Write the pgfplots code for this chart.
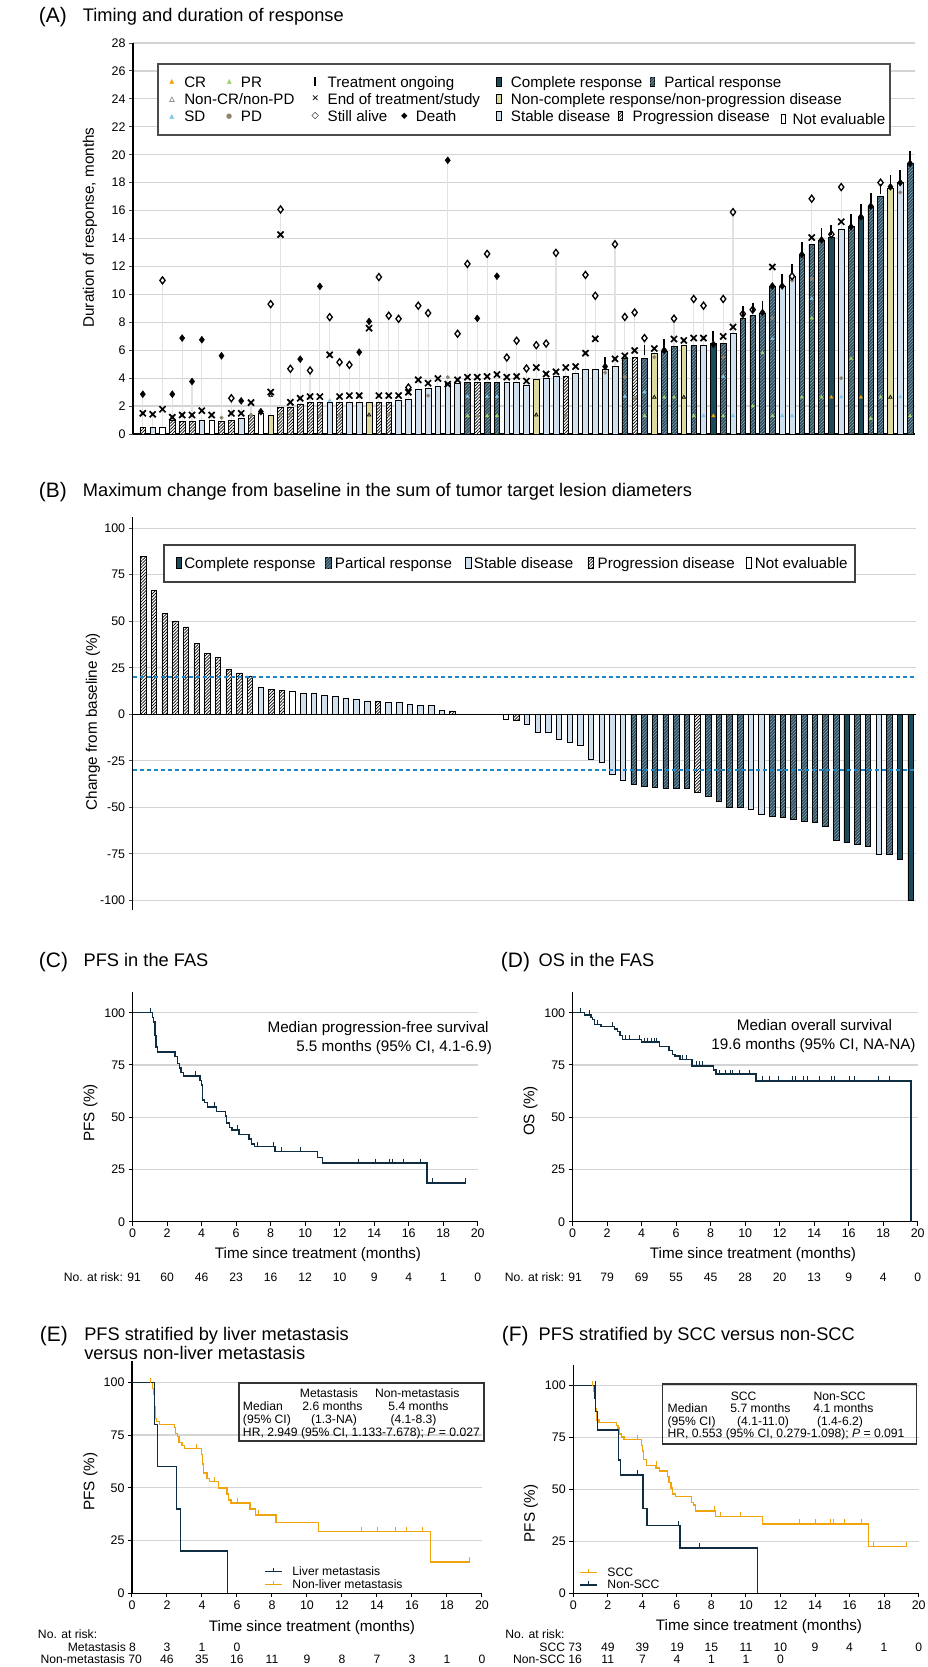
\documentclass[border=0pt]{standalone}
\usepackage{fontspec}
\setmainfont{Liberation Sans}
\newfontfamily\djv{DejaVu Sans}
\usepackage{pgfplots}
\pgfplotsset{compat=1.18}
\usepackage{pgfplotstable}
\usetikzlibrary{patterns.meta}

\definecolor{CRc}{HTML}{1B4B5A}
\definecolor{PRc}{HTML}{2A4B5B}
\definecolor{PRh}{HTML}{8AA2AF}
\definecolor{NCRc}{HTML}{DDDB9E}
\definecolor{SDc}{HTML}{D0E0EE}
\definecolor{mCR}{HTML}{F2A007}
\definecolor{mPR}{HTML}{9FD26B}
\definecolor{mSD}{HTML}{7CC7EA}
\definecolor{mPD}{HTML}{8E8470}
\definecolor{navy}{HTML}{0F2D40}
\definecolor{orng}{HTML}{F0A30A}
\definecolor{refblue}{HTML}{1C86C9}
\definecolor{gridc}{HTML}{D4D4D4}
\definecolor{conn}{HTML}{E2E2E2}

\newcommand\fP{\fontsize{21}{22}\selectfont}
\newcommand\fT{\fontsize{18.3}{19}\selectfont}
\newcommand\fL{\fontsize{15.3}{17}\selectfont}
\newcommand\fK{\fontsize{12.5}{14}\selectfont}
\newcommand\fS{\fontsize{12.2}{13}\selectfont}

\pgfplotsset{
  every tick label/.append style={font=\fK},
  /pgf/number format/assume math mode=true,
  km/.style={scale only axis, anchor=south west, axis lines*=left,
    axis line style={black, line width=1.5bp},
    xmin=0, xmax=20, ymin=0, ymax=110,
    xtick={0,2,...,20}, ytick={0,25,50,75,100},
    tick align=outside, major tick length=4bp,
    tick style={black, line width=1bp},
    ymajorgrids, grid style={gridc, line width=1.2bp}},
  censor/.style={only marks, mark=|, mark size=2.6bp,
    mark options={line width=1bp, yshift=2bp}},
}

% panel A: bar length, class (1 CR, 2 PR, 3 non-CR/non-PD, 4 SD, 5 PD, 6 NE),
% end of treatment, still alive, death, ongoing flag, top of the grey stem
\pgfplotstableread{
i val cls X alive death ong top
1 0.5 5 1.48 nan 2.85 0 2.85
2 0.5 4 1.41 nan nan 0 1.41
3 0.5 6 1.77 11.0 nan 0 11.0
4 0.95 5 1.2 nan 2.85 0 2.85
5 0.9 5 1.36 nan 6.87 0 6.87
6 0.9 5 1.36 nan 3.76 0 3.76
7 0.97 4 1.67 nan 6.75 0 6.75
8 0.97 6 1.36 nan nan 0 1.36
9 0.9 5 nan nan 5.6 0 5.6
10 0.97 5 1.48 2.56 nan 0 2.56
11 1.1 4 1.48 nan 2.37 0 2.37
12 1.36 5 2.25 nan nan 0 2.25
13 1.48 6 nan nan 1.6 0 1.6
14 1.36 3 3.0 9.3 nan 0 9.3
15 1.91 5 14.28 16.08 nan 0 16.08
16 1.91 5 2.27 4.67 nan 0 4.67
17 2.15 5 2.56 nan 5.36 0 5.36
18 2.27 5 2.68 4.55 nan 0 4.55
19 2.27 5 2.68 nan 10.57 0 10.57
20 2.27 4 5.67 8.37 nan 0 8.37
21 2.27 5 2.68 5.14 nan 0 5.14
22 2.27 4 2.75 4.95 nan 0 4.95
23 2.27 4 2.75 nan 5.86 0 5.86
24 2.27 3 7.58 nan 8.06 0 8.06
25 2.27 5 2.75 11.24 nan 0 11.24
26 2.27 5 2.75 8.47 nan 0 8.47
27 2.39 4 2.75 8.25 nan 0 8.25
28 2.51 4 2.99 3.33 nan 0 3.33
29 3.2 4 3.88 9.19 nan 0 9.19
30 3.28 4 3.64 8.66 nan 0 8.66
31 3.4 4 3.97 nan nan 0 3.97
32 3.6 4 3.57 nan 19.6 0 19.6
33 3.64 4 3.88 7.18 nan 0 7.18
34 3.68 2 4.07 12.18 nan 0 12.18
35 3.68 5 4.07 nan 8.28 0 8.28
36 3.68 2 4.12 12.9 nan 0 12.9
37 3.68 2 4.26 nan 11.3 0 11.3
38 3.68 4 4.07 5.48 nan 0 5.48
39 3.68 4 4.12 6.68 nan 0 6.68
40 3.52 4 3.79 4.69 nan 0 4.69
41 3.9 3 4.76 6.36 nan 0 6.36
42 4.0 4 4.3 6.48 nan 0 6.48
43 4.16 4 4.45 12.97 nan 0 12.97
44 4.16 5 4.76 nan nan 0 4.76
45 4.36 4 4.83 nan nan 0 4.83
46 4.6 4 5.79 11.39 nan 0 11.39
47 4.6 4 6.82 9.9 nan 0 9.9
48 4.6 4 nan nan 4.83 1 4.83
49 4.88 4 5.38 13.59 nan 0 13.59
50 5.45 2 5.6 8.38 nan 0 8.38
51 5.5 5 5.98 8.7 nan 0 8.7
52 5.43 2 nan 6.87 nan 1 6.87
53 5.79 3 6.12 nan nan 0 6.12
54 5.9 2 nan nan 6.0 1 6.0
55 6.27 2 6.8 8.26 nan 0 8.26
56 6.33 3 6.7 nan nan 0 6.7
57 6.33 2 6.87 9.67 nan 0 9.67
58 6.33 4 6.87 9.19 nan 0 9.19
59 6.46 1 nan nan 6.43 1 6.46
60 6.46 2 6.99 9.67 nan 0 9.67
61 7.18 4 7.66 15.89 nan 0 15.89
62 8.26 2 nan 8.6 nan 1 8.6
63 8.5 2 nan 8.9 nan 1 8.9
64 8.62 2 nan nan 8.7 1 8.7
65 10.58 2 11.96 nan 10.6 0 11.96
66 10.58 4 nan nan 10.6 1 10.6
67 11.3 4 nan 11.3 nan 1 11.3
68 12.85 2 nan nan 12.85 1 12.85
69 13.57 2 14.07 16.85 nan 0 16.85
70 13.85 2 nan nan 13.9 1 13.9
71 14.09 1 nan 14.3 nan 1 14.3
72 14.69 4 15.2 17.68 nan 0 17.68
73 14.84 2 nan nan 14.84 1 14.84
74 15.55 1 nan nan 15.55 1 15.55
75 16.32 2 nan nan 16.32 1 16.32
76 16.99 2 nan 18.0 nan 1 18.0
77 17.63 3 nan nan 17.7 1 17.7
78 18.0 4 nan nan 18.0 1 18.0
79 19.38 2 nan nan 19.38 1 19.38
}\tabA

% panel B: best change from baseline (%)
\pgfplotstableread{
i val cls
1 84.8 5
2 66.5 5
3 54.3 5
4 50.2 5
5 47.0 5
6 38.2 5
7 32.8 5
8 30.6 5
9 24.2 5
10 22.2 5
11 20.6 5
12 14.5 4
13 13.4 5
14 12.7 5
15 12.5 6
16 11.3 4
17 11.3 4
18 10.0 4
19 9.5 4
20 8.6 4
21 8.2 4
22 7.2 4
23 7.2 5
24 6.6 4
25 6.3 4
26 5.4 4
27 4.7 4
28 4.7 4
29 2.0 4
30 1.8 5
35 -2.7 6
36 -3.0 5
37 -5.4 4
38 -9.7 4
39 -9.9 4
40 -13.3 4
41 -14.9 4
42 -16.8 4
43 -24.2 4
44 -25.6 4
45 -32.3 4
46 -35.3 4
47 -37.6 2
48 -38.5 2
49 -39.4 2
50 -39.6 2
51 -40.0 2
52 -40.0 2
53 -42.1 5
54 -43.9 2
55 -46.9 2
56 -50.2 2
57 -50.2 2
58 -51.1 4
59 -53.6 4
60 -54.7 2
61 -55.6 2
62 -56.3 2
63 -57.5 2
64 -58.3 2
65 -60.0 2
66 -67.6 2
67 -69.0 1
68 -69.7 2
69 -70.8 2
70 -75.1 4
71 -75.1 2
72 -77.8 1
73 -99.8 1
}\tabB

\pgfplotstableread{
x y
0 100
1.15 97.8
1.2 95.6
1.28 89.0
1.35 83.5
1.45 81.3
2.45 79.1
2.6 75.8
2.7 73.6
2.8 71.4
2.95 69.8
3.9 67.6
4.0 65.4
4.05 58.2
4.15 57.1
4.35 54.9
4.85 52.7
5.37 50.5
5.45 47.3
5.6 45.1
5.75 43.9
6.15 41.7
6.75 39.5
6.9 37.3
7.05 35.9
8.25 33.7
10.7 30.8
11.0 28.0
17.05 18.5
19.3 18.5
}\pfsC

\pgfplotstableread{
x y
0 100
0.68 98.9
1.06 97.8
1.16 96.7
1.26 94.4
1.64 93.3
2.42 92.2
2.6 91.1
2.75 89.0
2.9 87.1
4.0 85.9
5.02 83.9
5.57 82.0
5.8 80.0
5.93 79.4
6.22 77.6
6.92 74.6
8.15 72.5
8.31 70.6
10.63 67.3
19.61 0
}\osD

\pgfplotstableread{
x y
0 100
1.28 80
1.47 60
2.55 40
2.76 20
5.47 0
}\liver

\pgfplotstableread{
x y
0 100
1.18 97.1
1.22 94.3
1.28 88.6
1.33 82.9
1.4 81.4
1.56 80.0
2.42 78.6
2.5 75.7
2.6 74.3
2.7 71.4
2.85 70.0
2.99 68.6
3.97 65.7
4.04 61.4
4.08 57.1
4.3 54.3
4.42 52.9
4.95 50.0
5.43 47.1
5.52 44.3
5.66 42.9
6.75 40.0
7.05 37.1
8.23 33.6
10.67 29.3
17.05 14.8
19.28 14.8
}\nonliver

\pgfplotstableread{
x y
0 100
1.2 97.3
1.25 94.5
1.3 89.0
1.35 83.5
1.5 82.2
2.5 80.8
2.6 79.5
2.68 76.7
2.8 75.3
2.95 74.0
3.95 71.2
4.0 68.5
4.07 64.4
4.25 61.6
4.79 60.3
4.98 58.9
5.45 56.2
5.55 53.4
5.65 50.7
5.75 47.9
5.91 46.6
6.85 43.8
6.95 42.5
7.07 39.7
8.22 37.0
10.96 33.5
17.1 22.5
19.27 22.5
}\scc

\pgfplotstableread{
x y
0 100
1.27 93.8
1.3 87.5
1.4 78.7
2.63 64.2
2.72 57.0
4.05 40.9
4.28 32.7
6.18 21.8
10.68 0
}\nonscc

\newsavebox\aCR \newsavebox\aPR \newsavebox\aNCR \newsavebox\aSD \newsavebox\aPD \newsavebox\aNE
\newsavebox\bCR \newsavebox\bPR \newsavebox\bSD \newsavebox\bPD \newsavebox\bNE
\newsavebox\kmN \newsavebox\kmO
\newcommand\mkicon[4]{\sbox#1{\tikz[baseline=0bp]\draw[line width=0.6bp,#4](0,0) rectangle (#2,#3);}}
\tikzset{
  prfill/.style={fill=PRc, postaction={pattern={Lines[angle=45,distance=2.2bp,line width=0.6bp]}, pattern color=PRh}},
  pdfill/.style={fill=white, postaction={pattern={Lines[angle=45,distance=2.2bp,line width=0.7bp]}, pattern color=black}},
}

\begin{document}
\mkicon\aCR{4.5bp}{8.7bp}{fill=CRc}
\mkicon\aPR{4.5bp}{8.7bp}{prfill}
\mkicon\aNCR{4.5bp}{8.7bp}{fill=NCRc}
\mkicon\aSD{4.5bp}{8.7bp}{fill=SDc}
\mkicon\aPD{4.5bp}{8.7bp}{pdfill}
\mkicon\aNE{4.5bp}{8.7bp}{fill=white}
\mkicon\bCR{5.5bp}{11bp}{fill=CRc}
\mkicon\bPR{5.5bp}{11bp}{prfill}
\mkicon\bSD{5.5bp}{11bp}{fill=SDc}
\mkicon\bPD{5.5bp}{11bp}{pdfill}
\mkicon\bNE{5.5bp}{11bp}{fill=white}
\sbox\kmN{\tikz[baseline=-3.8bp]{\draw[navy,line width=1.5bp](0,0)--(17bp,0);\draw[navy,line width=1bp](8.5bp,0)--(8.5bp,3.5bp);}}
\sbox\kmO{\tikz[baseline=-3.8bp]{\draw[orng,line width=1.5bp](0,0)--(17bp,0);\draw[orng,line width=1bp](8.5bp,0)--(8.5bp,3.5bp);}}
\begin{tikzpicture}
\useasboundingbox (0,0) rectangle (892bp,-1667bp);

% ---------- (A) ----------
\begin{axis}[at={(97bp,-434bp)}, anchor=south west, scale only axis,
  width=782bp, height=391bp, xmin=0, xmax=79.5, ymin=0, ymax=28,
  axis lines*=left, axis line style={black, line width=1.5bp},
  xtick=\empty, ytick={0,2,...,28}, tick align=outside, major tick length=4bp,
  tick style={black!70, line width=1bp},
  ymajorgrids, grid style={gridc, line width=1.2bp}]
\addplot[ycomb, conn, line width=1.1bp, mark=none] table[x=i,y=top]{\tabA};
\addplot[ybar, bar width=5.7bp, bar shift=0pt, draw=black, line width=0.6bp, fill=CRc,
  restrict expr to domain={\thisrow{cls}}{1:1}] table[x=i,y=val]{\tabA};
\addplot[ybar, bar width=5.7bp, bar shift=0pt, draw=black, line width=0.6bp, prfill,
  restrict expr to domain={\thisrow{cls}}{2:2}] table[x=i,y=val]{\tabA};
\addplot[ybar, bar width=5.7bp, bar shift=0pt, draw=black, line width=0.6bp, fill=NCRc,
  restrict expr to domain={\thisrow{cls}}{3:3}] table[x=i,y=val]{\tabA};
\addplot[ybar, bar width=5.7bp, bar shift=0pt, draw=black, line width=0.6bp, fill=SDc,
  restrict expr to domain={\thisrow{cls}}{4:4}] table[x=i,y=val]{\tabA};
\addplot[ybar, bar width=5.7bp, bar shift=0pt, draw=black, line width=0.6bp, pdfill,
  restrict expr to domain={\thisrow{cls}}{5:5}] table[x=i,y=val]{\tabA};
\addplot[ybar, bar width=5.7bp, bar shift=0pt, draw=black, line width=0.6bp, fill=white,
  restrict expr to domain={\thisrow{cls}}{6:6}] table[x=i,y=val]{\tabA};
% response assessments
\addplot[only marks, mark=triangle*, mark size=1.9bp, mark options={fill=mSD, draw=mSD}] coordinates {
 (2,1.41)(7,1.67)(11,1.48)(20,2.4)(22,2.75)(34,2.68)(36,2.68)(37,2.68)(50,2.68)(52,3.0)
 (58,1.3)(60,4.1)(61,1.3)(65,6.82)(66,1.3)(67,1.3)(69,9.7)(72,2.65)(78,2.65)};
\addplot[only marks, mark=triangle*, mark size=1.9bp, mark options={fill=mPR, draw=mPR}] coordinates {
 (34,1.3)(36,1.3)(37,1.3)(52,1.3)(54,2.63)(55,2.63)(57,1.3)(60,1.3)(63,2.0)(64,5.8)
 (65,1.3)(68,2.63)(69,8.3)(70,2.63)(73,5.4)(75,1.1)(76,2.63)(79,1.3)};
\addplot[only marks, mark=triangle*, mark size=1.9bp, mark options={fill=mCR, draw=mCR}] coordinates {
 (59,1.3)(71,2.63)(74,2.63)};
\addplot[only marks, mark=triangle, mark size=2bp, mark options={black, line width=0.7bp}] coordinates {
 (14,2.75)(24,1.36)(41,1.36)(53,2.63)(56,2.63)(77,2.63)};
\addplot[only marks, mark=*, mark size=1.8bp, mark options={fill=mPD, draw=mPD}] coordinates {
 (1,1.48)(4,1.2)(5,1.36)(6,1.36)(9,1.17)(10,1.48)(12,1.36)(15,1.4)(16,1.4)(17,2.56)
 (18,2.68)(19,1.3)(20,5.67)(21,1.3)(23,2.75)(25,2.75)(26,1.4)(28,2.99)(30,2.75)(32,4.07)
 (33,3.88)(34,4.07)(35,1.3)(37,4.26)(39,4.12)(42,4.3)(44,1.3)(46,5.79)(47,6.82)(48,4.4)
 (49,5.38)(50,4.1)(51,2.6)(53,5.5)(56,6.7)(58,6.87)(60,5.5)(65,8.3)(67,11.0)(69,11.1)
 (72,4.0)(78,17.3)};
\addplot[only marks, mark=x, mark size=4.3bp, mark options={black, line width=1.7bp}] table[x=i,y=X]{\tabA};
\addplot[only marks, mark=diamond*, mark size=3.5bp, mark options={fill=white, draw=black, line width=1.3bp}] table[x=i,y=alive]{\tabA};
\addplot[only marks, mark=diamond*, mark size=3.5bp, mark options={fill=black, draw=black}] table[x=i,y=death]{\tabA};
\addplot[only marks, mark=|, mark size=5bp, mark options={black, line width=1.8bp},
  restrict expr to domain={\thisrow{ong}}{1:1}] table[x=i, y expr=\thisrow{val}+0.55]{\tabA};
\end{axis}

% ---------- (B) ----------
\begin{axis}[at={(96.7bp,-909.6bp)}, anchor=south west, scale only axis,
  width=783.3bp, height=392.5bp, xmin=0, xmax=73.5, ymin=-105, ymax=106,
  axis y line*=left, axis x line=none, axis line style={black, line width=1.5bp},
  xtick=\empty, ytick={-100,-75,-50,-25,0,25,50,75,100},
  yticklabels={-100,-75,-50,-25,0,25,50,75,100},
  tick align=outside, major tick length=4bp, tick style={black!70, line width=1bp},
  ymajorgrids, grid style={gridc, line width=1.2bp}]
\addplot[ybar, bar width=5.5bp, bar shift=0pt, draw=black, line width=0.6bp, fill=CRc,
  restrict expr to domain={\thisrow{cls}}{1:1}] table[x=i,y=val]{\tabB};
\addplot[ybar, bar width=5.5bp, bar shift=0pt, draw=black, line width=0.6bp, prfill,
  restrict expr to domain={\thisrow{cls}}{2:2}] table[x=i,y=val]{\tabB};
\addplot[ybar, bar width=5.5bp, bar shift=0pt, draw=black, line width=0.6bp, fill=SDc,
  restrict expr to domain={\thisrow{cls}}{4:4}] table[x=i,y=val]{\tabB};
\addplot[ybar, bar width=5.5bp, bar shift=0pt, draw=black, line width=0.6bp, pdfill,
  restrict expr to domain={\thisrow{cls}}{5:5}] table[x=i,y=val]{\tabB};
\addplot[ybar, bar width=5.5bp, bar shift=0pt, draw=black, line width=0.6bp, fill=white,
  restrict expr to domain={\thisrow{cls}}{6:6}] table[x=i,y=val]{\tabB};
\addplot[refblue, line width=2bp, dash pattern=on 4bp off 3bp] coordinates {(0,20)(73.5,20)};
\addplot[refblue, line width=2bp, dash pattern=on 4bp off 3bp] coordinates {(0,-30)(73.5,-30)};
\addplot[black, line width=1.5bp] coordinates {(0,0)(73.5,0)};
\end{axis}

% ---------- (C) ----------
\begin{axis}[km, at={(96.7bp,-1221.7bp)}, width=345bp, height=229.9bp]
\addplot[const plot, navy, line width=1.5bp] table{\pfsC};
\addplot[censor, navy] coordinates {(1.05,100)(3.67,69.8)(4.73,54.9)(6.09,43.9)(7.25,35.9)(8.17,35.9)(8.6,33.7)(9.72,33.7)(13.08,28)(14.07,28)(14.88,28)(15.07,28)(15.71,28)(16.68,28)(17.4,18.5)(19.3,18.5)};
\end{axis}

% ---------- (D) ----------
\begin{axis}[km, at={(536.7bp,-1221.7bp)}, width=345bp, height=229.9bp]
\addplot[const plot, navy, line width=1.5bp] table{\osD};
\addplot[censor, navy] coordinates {(0.43,100)(0.97,98.9)(1.45,94.4)(2.32,93.3)(3.09,87.1)(3.29,87.1)(3.86,87.1)(4.15,85.9)(4.35,85.9)(4.54,85.9)(4.73,85.9)(4.83,85.9)(6.38,77.6)(6.57,77.6)(7.15,74.6)(7.34,74.6)(7.54,74.6)(8.5,70.6)(8.85,70.6)(9.12,70.6)(9.28,70.6)(9.66,70.6)(10.24,70.6)(10.98,67.3)(11.4,67.3)(11.94,67.3)(12.75,67.3)(12.9,67.3)(13.37,67.3)(13.62,67.3)(14.3,67.3)(14.98,67.3)(15.2,67.3)(16.04,67.3)(16.33,67.3)(17.72,67.3)(18.36,67.3)};
\end{axis}

% ---------- (E) ----------
\begin{axis}[km, at={(96bp,-1593.3bp)}, width=350bp, height=232.1bp]
\addplot[const plot, orng, line width=1.5bp] table{\nonliver};
\addplot[censor, orng] coordinates {(1.07,100)(3.71,68.6)(4.74,52.9)(6.04,42.9)(7.24,37.1)(13.09,29.3)(14.04,29.3)(15.05,29.3)(15.66,29.3)(16.61,29.3)(19.28,14.8)};
\addplot[const plot, navy, line width=1.5bp] table{\liver};
\end{axis}

% ---------- (F) ----------
\begin{axis}[km, at={(537.3bp,-1593.3bp)}, width=345.4bp, height=228.4bp]
\addplot[const plot, orng, line width=1.5bp] table{\scc};
\addplot[censor, orng] coordinates {(1.12,100)(3.73,74.0)(4.79,61.6)(8.17,39.7)(8.55,37.0)(9.71,37.0)(13.09,33.5)(14.05,33.5)(14.88,33.5)(15.08,33.5)(15.69,33.5)(16.66,33.5)(17.37,22.5)(19.27,22.5)};
\addplot[const plot, navy, line width=1.5bp] table{\nonscc};
\addplot[censor, navy] coordinates {(1.27,100)(3.73,57.0)(6.1,32.7)(7.3,21.8)};
\end{axis}

% ---------- texts ----------
\begin{scope}[x=1bp, y=-1bp, every node/.style={inner sep=0pt, outer sep=0pt}]
\node[anchor=base west, font=\fP] at (3,22) {(A)};
\node[anchor=base west, font=\fT] at (47,21.6) {Timing and duration of response};
\node[anchor=base west, font=\fP] at (3,497) {(B)};
\node[anchor=base west, font=\fT] at (47,496.6) {Maximum change from baseline in the sum of tumor target lesion diameters};
\node[anchor=base west, font=\fP] at (3,967) {(C)};
\node[anchor=base west, font=\fT] at (47.7,966.6) {PFS in the FAS};
\node[anchor=base west, font=\fP] at (465,967) {(D)};
\node[anchor=base west, font=\fT] at (502.7,966.6) {OS in the FAS};
\node[anchor=base west, font=\fP] at (4,1341) {(E)};
\node[anchor=base west, font=\fT] at (48.3,1340.6) {PFS stratified by liver metastasis};
\node[anchor=base west, font=\fT] at (48.3,1359.3) {versus non-liver metastasis};
\node[anchor=base west, font=\fP] at (466,1341) {(F)};
\node[anchor=base west, font=\fT] at (502.7,1340.6) {PFS stratified by SCC versus non-SCC};

% y labels
\node[rotate=90, font=\fL] at (54,227.5) {Duration of response, months};
\node[rotate=90, font=\fL] at (57,721.7) {Change from baseline (\%)};
\node[rotate=90, font=\fL] at (54.5,1113) {PFS (\%)};
\node[rotate=90, font=\fL] at (494.5,1111) {OS (\%)};
\node[rotate=90, font=\fL] at (54.5,1481.7) {PFS (\%)};
\node[rotate=90, font=\fL] at (495,1513.5) {PFS (\%)};

% legend A
\draw[line width=1.3bp, draw=black!70, fill=white] (122,64) rectangle (854,135);
\begin{scope}[every node/.append style={font=\fontsize{15.2}{17}\selectfont}]
\node at (136,82) {\djv\fontsize{6.5}{7}\selectfont\textcolor{mCR}{▲}};
\node[anchor=base west] at (148.3,87.2) {CR};
\node at (193.3,82) {\djv\fontsize{6.5}{7}\selectfont\textcolor{mPR}{▲}};
\node[anchor=base west] at (205,87.2) {PR};
\node at (279.3,81.7) {\rule{1.8bp}{8.5bp}};
\node[anchor=base west] at (291.7,87.2) {Treatment ongoing};
\node[anchor=south west] at (460.5,86.2) {\usebox\aCR};
\node[anchor=base west] at (475,87.2) {Complete response};
\node[anchor=south west] at (613.8,86.2) {\usebox\aPR};
\node[anchor=base west] at (628.3,87.2) {Partical response};
\node at (136,99.5) {\djv\fontsize{7}{7}\selectfont △};
\node[anchor=base west] at (148.3,104.5) {Non-CR/non-PD};
\node at (279.3,99) {\djv\fontsize{9}{9}\selectfont\bfseries ✕};
\node[anchor=base west] at (291.7,104.5) {End of treatment/study};
\node[anchor=south west] at (460.5,103.5) {\usebox\aNCR};
\node[anchor=base west] at (475,104.5) {Non-complete response/non-progression disease};
\node at (136,117) {\djv\fontsize{6.5}{7}\selectfont\textcolor{mSD}{▲}};
\node[anchor=base west] at (148.3,121.8) {SD};
\node at (193.3,116.5) {\djv\fontsize{7}{7}\selectfont\textcolor{mPD}{●}};
\node[anchor=base west] at (205,121.8) {PD};
\node at (279.3,116.3) {\djv\fontsize{9.5}{9}\selectfont ◇};
\node[anchor=base west] at (291.7,121.8) {Still alive};
\node at (368.3,116.3) {\djv\fontsize{8.5}{9}\selectfont ◆};
\node[anchor=base west] at (380,121.8) {Death};
\node[anchor=south west] at (460.5,120.8) {\usebox\aSD};
\node[anchor=base west] at (475,121.8) {Stable disease};
\node[anchor=south west] at (582,120.8) {\usebox\aPD};
\node[anchor=base west] at (596.7,121.8) {Progression disease};
\node[anchor=south west] at (745,123.5) {\usebox\aNE};
\node[anchor=base west] at (756.7,124.5) {Not evaluable};
\end{scope}

% legend B
\draw[line width=1.3bp, draw=black!75, fill=white] (128,545) rectangle (819,582);
\begin{scope}[every node/.append style={font=\fontsize{15.2}{17}\selectfont}]
\node[anchor=south west] at (140,569) {\usebox\bCR};
\node[anchor=base west] at (148.3,568.8) {Complete response};
\node[anchor=south west] at (289.3,569) {\usebox\bPR};
\node[anchor=base west] at (299,568.8) {Partical response};
\node[anchor=south west] at (429.3,569) {\usebox\bSD};
\node[anchor=base west] at (438,568.8) {Stable disease};
\node[anchor=south west] at (551.7,569) {\usebox\bPD};
\node[anchor=base west] at (561.7,568.8) {Progression disease};
\node[anchor=south west] at (710,569) {\usebox\bNE};
\node[anchor=base west] at (719,568.8) {Not evaluable};
\end{scope}

% C and D annotations
\node[anchor=base east, font=\fL] at (452.7,1032.2) {Median progression-free survival};
\node[anchor=base east, font=\fL] at (456,1051.2) {5.5 months (95\% CI, 4.1-6.9)};
\node[anchor=base, font=\fL] at (778.5,1030.2) {Median overall survival};
\node[anchor=base, font=\fL] at (777.5,1049.5) {19.6 months (95\% CI, NA-NA)};

% x labels
\node[anchor=base, font=\fL] at (282,1258.5) {Time since treatment (months)};
\node[anchor=base, font=\fL] at (717,1258.5) {Time since treatment (months)};
\node[anchor=base, font=\fL] at (276,1631.2) {Time since treatment (months)};
\node[anchor=base, font=\fL] at (723,1630.5) {Time since treatment (months)};

% numbers at risk
\begin{scope}[every node/.append style={font=\fS}]
\node[anchor=base east] at (105,1281.1) {No. at risk: 91};
\foreach \xx/\nn in {131.2/60,165.7/46,200.2/23,234.7/16,269.2/12,303.7/10,338.2/9,372.7/4,407.2/1,441.7/0}
  \node[anchor=base] at (\xx,1281.1) {\nn};
\node[anchor=base east] at (546,1281.1) {No. at risk: 91};
\foreach \xx/\nn in {571.2/79,605.7/69,640.2/55,674.7/45,709.2/28,743.7/20,778.2/13,812.7/9,847.2/4,881.7/0}
  \node[anchor=base] at (\xx,1281.1) {\nn};
\node[anchor=base west] at (2,1638.4) {No. at risk:};
\node[anchor=base east] at (100,1651.1) {Metastasis 8};
\foreach \xx/\nn in {131/3,166/1,201/0}
  \node[anchor=base] at (\xx,1651.1) {\nn};
\node[anchor=base east] at (106,1663.7) {Non-metastasis 70};
\foreach \xx/\nn in {131/46,166/35,201/16,236/11,271/9,306/8,341/7,376/3,411/1,446/0}
  \node[anchor=base] at (\xx,1663.7) {\nn};
\node[anchor=base west] at (469.3,1638.7) {No. at risk:};
\node[anchor=base east] at (546,1651.1) {SCC 73};
\foreach \xx/\nn in {571.8/49,606.4/39,641.1/19,675.5/15,710/11,744.5/10,779/9,813.5/4,848/1,882.7/0}
  \node[anchor=base] at (\xx,1651.1) {\nn};
\node[anchor=base east] at (546,1663.7) {Non-SCC 16};
\foreach \xx/\nn in {571.8/11,606.4/7,641.1/4,675.5/1,710/1,744.5/0}
  \node[anchor=base] at (\xx,1663.7) {\nn};

% KM legends
\node[anchor=base west] at (228,1575.4) {\usebox\kmN\hspace{10bp}Liver metastasis};
\node[anchor=base west] at (228,1588.4) {\usebox\kmO\hspace{10bp}Non-liver metastasis};
\node[anchor=base west] at (543,1576.1) {\usebox\kmO\hspace{10bp}SCC};
\node[anchor=base west] at (543,1588.7) {\usebox\kmN\hspace{10bp}Non-SCC};

% hazard ratio boxes
\draw[line width=1.2bp, black!80] (203,1383) rectangle (448,1441);
\node[anchor=base] at (293,1397.4) {Metastasis};
\node[anchor=base] at (381.3,1397.4) {Non-metastasis};
\node[anchor=base west] at (207,1410.4) {Median};
\node[anchor=base] at (296.5,1410.4) {2.6 months};
\node[anchor=base] at (382.5,1410.4) {5.4 months};
\node[anchor=base west] at (207,1423.4) {(95\% CI)};
\node[anchor=base] at (298,1423.4) {(1.3-NA)};
\node[anchor=base] at (377.5,1423.4) {(4.1-8.3)};
\node[anchor=base west] at (207,1436.4) {HR, 2.949 (95\% CI, 1.133-7.678); \textit{P} = 0.027};
\draw[line width=1.2bp, black!80] (626.7,1384) rectangle (880.7,1444);
\node[anchor=base] at (707.7,1400.1) {SCC};
\node[anchor=base] at (803.7,1400.1) {Non-SCC};
\node[anchor=base west] at (631.7,1412.7) {Median};
\node[anchor=base] at (724.5,1412.7) {5.7 months};
\node[anchor=base] at (807.5,1412.7) {4.1 months};
\node[anchor=base west] at (631.7,1425.4) {(95\% CI)};
\node[anchor=base] at (727,1425.4) {(4.1-11.0)};
\node[anchor=base] at (804,1425.4) {(1.4-6.2)};
\node[anchor=base west] at (631.7,1437.7) {HR, 0.553 (95\% CI, 0.279-1.098); \textit{P} = 0.091};
\end{scope}
\end{scope}
\end{tikzpicture}
\end{document}
